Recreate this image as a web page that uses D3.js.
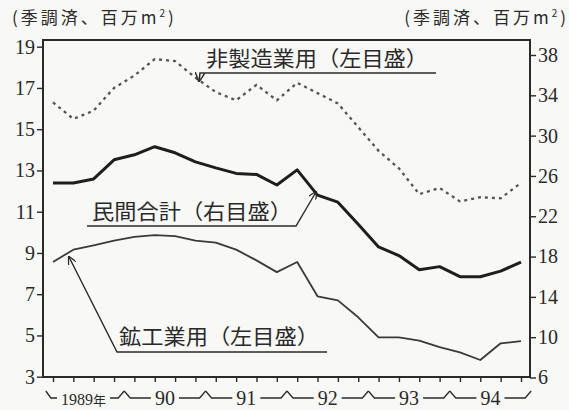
<!DOCTYPE html>
<html><head><meta charset="utf-8">
<script src="https://cdn.jsdelivr.net/npm/d3@7"></script>
<style>
body{margin:0;background:#f8f8f6;}
svg{display:block;}
</style></head>
<body><svg id="c" width="569" height="410"></svg>
<script>
// ---- data ----
const quarters = ["89Q1","89Q2","89Q3","89Q4","90Q1","90Q2","90Q3","90Q4","91Q1","91Q2","91Q3","91Q4",
                  "92Q1","92Q2","92Q3","92Q4","93Q1","93Q2","93Q3","93Q4","94Q1","94Q2","94Q3","94Q4"];
const yearLabels = ["1989年","90","91","92","93","94"];
const nonMfg = [16.3,15.5,15.9,17.0,17.6,18.4,18.3,17.5,16.8,16.4,17.15,16.4,17.25,16.75,16.25,15.1,13.95,13.1,11.85,12.15,11.5,11.7,11.65,12.4];
const privateTotal = [25.3,25.3,25.7,27.6,28.1,28.9,28.3,27.4,26.8,26.25,26.15,25.1,26.6,24.1,23.4,21.2,18.95,18.1,16.7,17.0,16.0,16.0,16.55,17.45];
const mining = [8.56,9.16,9.37,9.6,9.78,9.86,9.82,9.6,9.5,9.16,8.64,8.07,8.56,6.9,6.7,5.88,4.91,4.91,4.75,4.43,4.18,3.81,4.62,4.72];
const leftTicks = [3,5,7,9,11,13,15,17,19];
const rightTicks = [6,10,14,18,22,26,30,34,38];
const unitLabel = "(季調済、百万m";
const seriesNames = ["非製造業用（左目盛）","民間合計（右目盛）","鉱工業用（左目盛）"];

// ---- layout ----
const svg = d3.select("#c");
const L = 43, R = 530, T = 40, B = 377;
const x = d3.scaleLinear().domain([0, quarters.length - 1]).range([53, 521]);
const yL = d3.scaleLinear().domain([3, 19]).range([376.7, 46.7]);
const yR = d3.scaleLinear().domain([6, 38]).range([377.5, 55]);
const ink = "#2a2a2a";
const numFont = "'Liberation Serif', serif";
const cjkFont = "'Noto Sans CJK JP', sans-serif";

// axes
const gl = svg.append("g").attr("transform", `translate(${L},0)`)
  .call(d3.axisLeft(yL).tickValues(leftTicks).tickSize(6).tickPadding(2));
const gr = svg.append("g").attr("transform", `translate(${R},0)`)
  .call(d3.axisRight(yR).tickValues(rightTicks).tickSize(6).tickPadding(2));
const gb = svg.append("g").attr("transform", `translate(0,${B})`)
  .call(d3.axisBottom(x).tickValues(d3.range(quarters.length)).tickSize(5).tickFormat(""));
[gl, gr, gb].forEach(g => {
  g.select(".domain").remove();
  g.selectAll(".tick line").attr("stroke", ink).attr("stroke-width", 1.4);
  g.selectAll(".tick text").attr("fill", ink).style("font-family", numFont).style("font-size", "20px");
});

// frame
svg.append("rect").attr("x", L).attr("y", T).attr("width", R - L).attr("height", B - T)
  .attr("fill", "none").attr("stroke", ink).attr("stroke-width", 2);

// unit labels
function unit(xp, anchor) {
  const t = svg.append("text").attr("x", xp).attr("y", 24).attr("text-anchor", anchor)
    .attr("fill", ink).style("font-family", cjkFont).style("font-size", "17px")
    .style("letter-spacing", "3px");
  t.append("tspan").text(unitLabel);
  t.append("tspan").attr("dy", -7).style("font-size", "10px").text("2");
  t.append("tspan").attr("dy", 7).text(")");
}
unit(12, "start");
unit(569, "end");

// lines
const line = (ys) => d3.line().x((d, i) => x(i)).y(d => ys(d));
svg.append("path").datum(nonMfg).attr("d", line(yL)).attr("fill", "none")
  .attr("stroke", "#555").attr("stroke-width", 2.3).attr("stroke-dasharray", "3,4");
svg.append("path").datum(privateTotal).attr("d", line(yR)).attr("fill", "none")
  .attr("stroke", "#1e1e1e").attr("stroke-width", 3).attr("stroke-linejoin", "round");
svg.append("path").datum(mining).attr("d", line(yL)).attr("fill", "none")
  .attr("stroke", "#3a3a3a").attr("stroke-width", 1.8).attr("stroke-linejoin", "round");

// arrow marker
svg.append("defs").append("marker").attr("id", "arr").attr("viewBox", "0 0 8 8")
  .attr("refX", 7).attr("refY", 4).attr("markerWidth", 6).attr("markerHeight", 6)
  .attr("orient", "auto").append("path").attr("d", "M0,0 L8,4 L0,8").attr("fill", "none")
  .attr("stroke", ink).attr("stroke-width", 1.2);

// annotations
function label(txt, xp, yp, len) {
  svg.append("text").attr("x", xp).attr("y", yp).attr("fill", ink)
    .attr("textLength", len).attr("lengthAdjust", "spacingAndGlyphs")
    .style("font-family", cjkFont).style("font-size", "21px").text(txt);
}
label(seriesNames[0], 206, 66, 222);
svg.append("path").attr("d", "M436,73 L200,73 L199,81").attr("fill", "none")
  .attr("stroke", ink).attr("stroke-width", 1.6).attr("marker-end", "url(#arr)");
label(seriesNames[1], 92, 219, 200);
svg.append("path").attr("d", "M87,226 L296,226 L316,192").attr("fill", "none")
  .attr("stroke", ink).attr("stroke-width", 1.4).attr("marker-end", "url(#arr)");
label(seriesNames[2], 119, 344, 200);
svg.append("path").attr("d", "M327,352 L117,352 L69,257").attr("fill", "none")
  .attr("stroke", ink).attr("stroke-width", 1.4).attr("marker-end", "url(#arr)");

// year brackets
const step = x(1) - x(0);
const yTop = 391, yBase = 398;
yearLabels.forEach((lab, k) => {
  const b0 = x(4 * k) - step / 2, b1 = x(4 * k + 3) + step / 2, c = (b0 + b1) / 2;
  const t = svg.append("text").attr("x", c).attr("y", 405).attr("text-anchor", "middle")
    .attr("fill", ink);
  if (k === 0) {
    t.append("tspan").style("font-family", numFont).style("font-size", "16px").text(lab.slice(0, 4));
    t.append("tspan").style("font-family", cjkFont).style("font-size", "13px").text(lab.slice(4));
  } else {
    t.style("font-family", numFont).style("font-size", "20px").text(lab);
  }
  const w = t.node().getComputedTextLength();
  const a = c - w / 2 - 4, z = c + w / 2 + 4;
  const p = k === 0
    ? `M${b0 + 3},${yTop} L${b0 + 8},${yBase} L${a},${yBase} M${z},${yBase} L${b1 - 6},${yBase} L${b1},${yTop}`
    : `M${b0},${yTop} L${b0 + 6},${yBase} L${a},${yBase} M${z},${yBase} L${b1 - 6},${yBase} L${b1},${yTop}`;
  svg.append("path").attr("d", p).attr("fill", "none").attr("stroke", ink).attr("stroke-width", 1.3);
});
</script></body></html>
